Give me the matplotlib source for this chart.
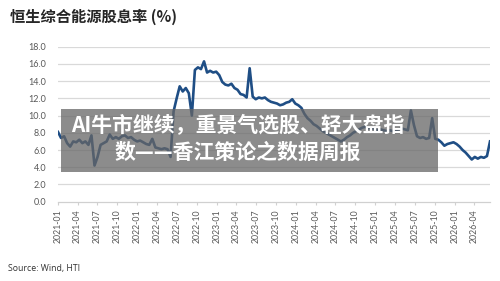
import matplotlib
matplotlib.use("Agg")
import matplotlib.pyplot as plt
import matplotlib.dates as mdates
import pandas as pd
from matplotlib.patches import Rectangle

# ---- data ----
start_date = "2021-01-01"
step = "14D"
yield_values = [
    8.1, 7.4, 7.6, 6.8, 6.4, 7.0, 6.9, 7.2, 6.8, 7.0,
    6.6, 7.7, 4.2, 5.2, 6.6, 6.8, 7.0, 7.8, 7.3, 7.5,
    7.3, 7.6, 7.7, 7.4, 7.5, 7.2, 7.0, 7.1, 6.9, 6.7,
    6.6, 7.3, 6.3, 6.2, 6.1, 6.2, 6.1, 5.2, 10.5, 12.0,
    13.4, 12.8, 13.2, 12.6, 10.0, 15.3, 15.6, 15.4, 16.3, 15.0,
    15.2, 15.0, 15.1, 14.7, 13.9, 13.6, 13.5, 13.7, 13.2, 13.0,
    12.5, 12.4, 12.1, 15.5, 12.2, 11.9, 12.1, 12.0, 12.1, 11.8,
    11.6, 11.5, 11.4, 11.2, 11.3, 11.5, 11.6, 11.9, 11.4, 11.2,
    10.9, 10.2, 9.7, 9.4, 9.0, 8.8, 8.5, 8.2, 8.0, 7.8,
    7.6, 7.4, 7.2, 7.0, 7.2, 7.5, 7.7, 8.0, 8.2, 8.4,
    8.6, 8.7, 8.5, 8.6, 8.4, 8.3, 8.4, 8.3, 8.2, 8.3,
    8.2, 8.3, 8.4, 8.5, 8.4, 8.3, 10.6, 8.9, 7.6, 7.4,
    7.5, 7.3, 7.4, 9.7, 7.3, 7.2, 6.9, 6.5, 6.7, 6.8,
    6.9, 6.7, 6.4, 6.0, 5.7, 5.3, 4.9, 5.2, 5.0, 5.2,
    5.1, 5.3, 7.0,
]
tick_start = "2021-01-01"
tick_end = "2026-04-01"
y_ticks = [0, 2, 4, 6, 8, 10, 12, 14, 16, 18]
title = "恒生综合能源股息率 (%)"
source = "Source: Wind, HTI"
overlay_lines = ["AI牛市继续，重景气选股、轻大盘指", "数——香江策论之数据周报"]

dates = pd.date_range(start_date, periods=len(yield_values), freq=step)
ticks = pd.date_range(tick_start, tick_end, freq="QS")

fig = plt.figure(figsize=(5.0, 2.81), dpi=100)
ax = fig.add_axes([0.116, 0.2822, 0.864, 0.5516])

for y in y_ticks[1:]:
    ax.axhline(y, color="#d9d9d9", lw=0.9, zorder=1)

ax.plot(dates, yield_values, color="#1f4e85", lw=1.9, zorder=3, solid_joinstyle="round")

ax.set_ylim(0, 18)
ax.set_xlim(dates[0], dates[-1])
ax.set_yticks(y_ticks)
ax.set_yticklabels([f"{v:.1f}" for v in y_ticks])
ax.set_xticks(ticks)
ax.set_xticklabels([d.strftime("%Y-%m") for d in ticks], rotation=90)

for s in ["top", "right", "left"]:
    ax.spines[s].set_visible(False)
ax.spines["bottom"].set_color("#d0d0d0")
ax.spines["bottom"].set_linewidth(0.9)
ax.tick_params(axis="y", length=0, pad=8.5, labelsize=6.5, labelcolor="#595959")
ax.tick_params(axis="x", length=2.5, width=0.8, color="#d0d0d0", pad=3,
               labelsize=6.3, labelcolor="#595959")
for lab in ax.get_xticklabels() + ax.get_yticklabels():
    lab.set_family(["Lato", "DejaVu Sans"])

fig.text(0.02, 0.94, title, fontsize=11, fontweight="heavy", color="#262626",
         family=["Noto Sans CJK SC", "DejaVu Sans"], va="center", ha="left")
fig.text(0.016, 0.046, source, fontsize=6.3, color="#333333",
         family=["Open Sans", "DejaVu Sans"], va="center", ha="left")

rect = Rectangle((0.122, 0.388), 0.754, 0.224, transform=fig.transFigure,
                 facecolor="#666666", alpha=0.75, edgecolor="none", zorder=10)
fig.patches.append(rect)
fig.text(0.476, 0.552, overlay_lines[0], fontsize=15, fontweight="heavy", color="white",
         family=["Noto Sans CJK SC", "DejaVu Sans"], ha="center", va="center", zorder=11)
fig.text(0.476, 0.459, overlay_lines[1], fontsize=15, fontweight="heavy", color="white",
         family=["Noto Sans CJK SC", "DejaVu Sans"], ha="center", va="center", zorder=11)

fig.savefig("out.png", dpi=100)
